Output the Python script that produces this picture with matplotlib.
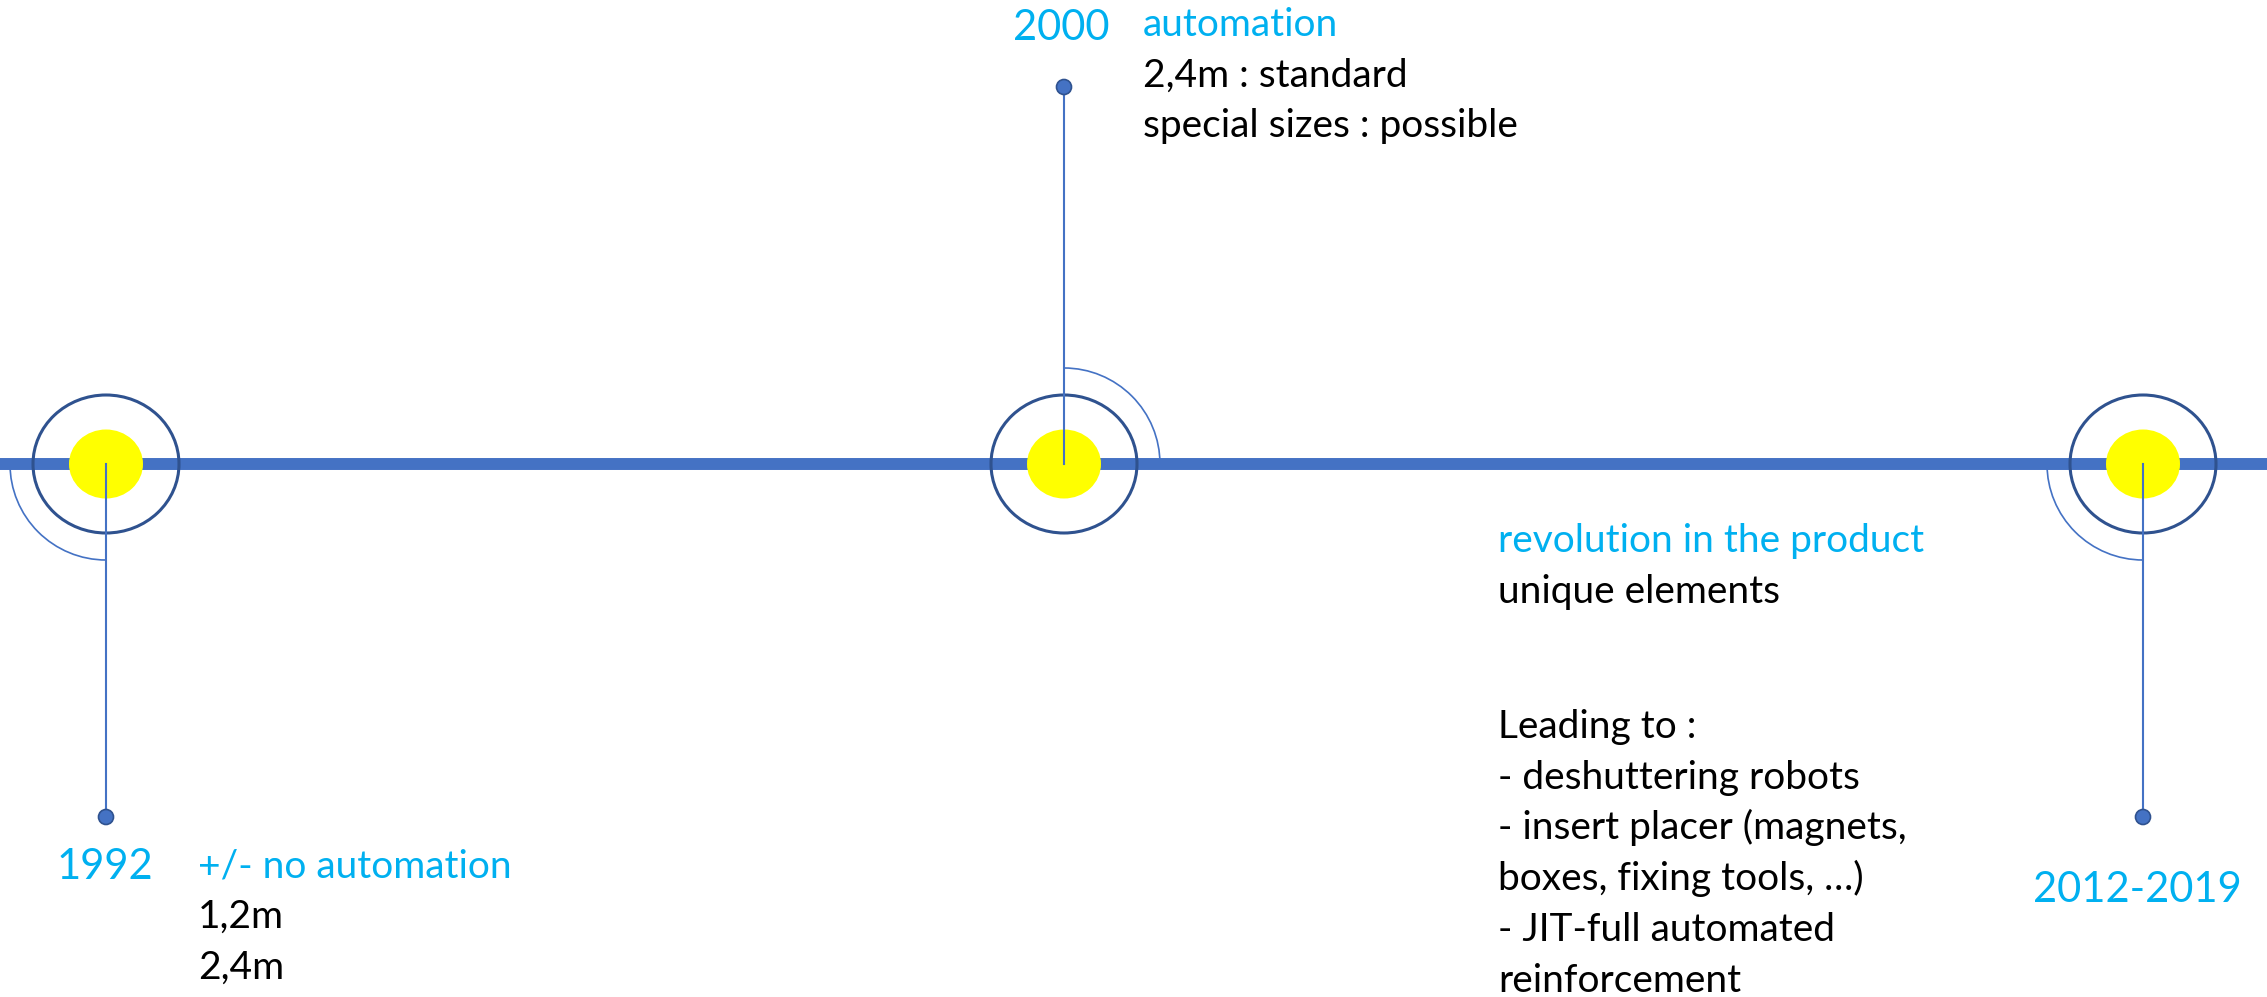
import matplotlib.pyplot as plt
from matplotlib.patches import Ellipse, Arc, Circle

plt.rcParams['font.family'] = ['Lato', 'DejaVu Sans']

# timeline content
years = ["1992", "2000", "2012-2019"]
headlines = ["+/- no automation", "automation", "revolution in the product"]
details = [["1,2m", "2,4m"],
           ["2,4m : standard", "special sizes : possible"],
           ["unique elements"]]
outcomes = ["Leading to :",
            "- deshuttering robots",
            "- insert placer (magnets,",
            "boxes, fixing tools, …)",
            "- JIT-full automated",
            "reinforcement"]

# layout (pixels, y downwards)
W, H = 2267, 997
line_y = 464
node_x = [106, 1064, 2143]
stem_end = [817, 87, 817]
arc_span = [(90, 180), (270, 360), (90, 180)]
year_pos = [(57, 879), (1013, 40), (2033, 902)]
text_pos = [(198, 877), (1143, 36), (1498, 552)]
outcome_pos = (1498, 738)
step = 50.7
fs = 28

blue = "#4472C4"
dark = "#2F528F"
cyan = "#00B0F0"

fig = plt.figure(figsize=(W / 100, H / 100), dpi=100)
ax = fig.add_axes([0, 0, 1, 1])
ax.set_xlim(0, W)
ax.set_ylim(H, 0)
ax.axis("off")

# main band
ax.plot([0, W], [line_y, line_y], color=blue, lw=8.6, solid_capstyle="butt", zorder=1)

for i, x in enumerate(node_x):
    ax.add_patch(Ellipse((x, line_y), 146, 138, fill=False, ec=dark, lw=2.2, zorder=2))
    ax.add_patch(Ellipse((x, line_y), 74, 69, color="#FFFF00", lw=0, zorder=3))
    ax.add_patch(Arc((x, line_y), 192, 192, theta1=arc_span[i][0], theta2=arc_span[i][1],
                     color=blue, lw=1.2, zorder=2))
    ax.plot([x, x], [line_y, stem_end[i]], color=blue, lw=1.5, zorder=4)
    ax.add_patch(Circle((x, stem_end[i]), 7.5, fc=blue, ec=dark, lw=1.2, zorder=5))

    yx, yy = year_pos[i]
    ax.text(yx, yy, years[i], color=cyan, fontsize=30, va="baseline", ha="left")

    tx, ty = text_pos[i]
    ax.text(tx, ty, headlines[i], color=cyan, fontsize=fs, va="baseline", ha="left")
    for j, d in enumerate(details[i]):
        ax.text(tx, ty + (j + 1) * step, d, color="black", fontsize=fs,
                va="baseline", ha="left")

ox, oy = outcome_pos
for j, t in enumerate(outcomes):
    ax.text(ox, oy + j * step, t, color="black", fontsize=fs, va="baseline", ha="left")

fig.savefig("out.png", dpi=100, facecolor="white")
